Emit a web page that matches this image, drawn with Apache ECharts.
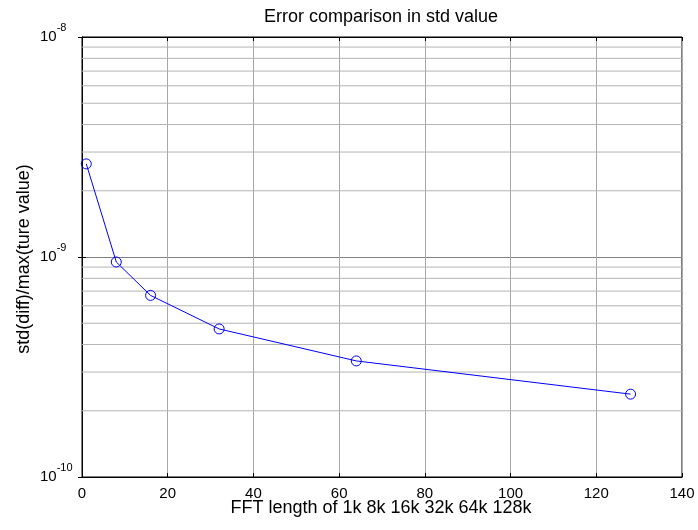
<!DOCTYPE html>
<html>
<head>
<meta charset="utf-8">
<script src="https://cdn.jsdelivr.net/npm/echarts@6/dist/echarts.min.js"></script>
<style>html,body{margin:0;padding:0;background:#fff}#c{width:698px;height:530px}</style>
</head>
<body>
<div id="c"></div>
<script>
const fftLengths = [1, 8, 16, 32, 64, 128];
const stdErrors = [2.65e-9, 0.949e-9, 0.669e-9, 0.471e-9, 0.337e-9, 0.238e-9];
const xTicks = [0, 20, 40, 60, 80, 100, 120, 140];
const yDecades = [1e-10, 1e-9, 1e-8];
const yMinorGrid = [2e-10,3e-10,4e-10,5e-10,6e-10,7e-10,8e-10,9e-10,2e-9,3e-9,4e-9,5e-9,6e-9,7e-9,8e-9,9e-9];
const titleText = 'Error comparison in std value';
const xLabel = 'FFT length of 1k 8k 16k 32k 64k 128k';
const yLabel = 'std(diff)/max(ture value)';

const FONT = 'Arial, "Liberation Sans", sans-serif';
const chart = echarts.init(document.getElementById('c'), null, {renderer: 'canvas'});
const gridL = 82, gridR = 16, gridT = 37, gridB = 53;
const xMin = xTicks[0], xMax = xTicks[xTicks.length - 1];

const minorSeries = yMinorGrid.map(v => ({
  type: 'line', silent: true, symbol: 'none', z: 1,
  data: [[xMin, v], [xMax, v]],
  lineStyle: {color: '#b4b4b4', width: 1},
  emphasis: {disabled: true}, tooltip: {show: false}
}));

chart.setOption({
  animation: false,
  backgroundColor: '#fff',
  graphic: [
    {type: 'text', x: 381, y: 17, style: {text: titleText, font: '18px ' + FONT, fill: '#000', textAlign: 'center', textVerticalAlign: 'middle'}},
    {type: 'text', x: 381, y: 508.5, style: {text: xLabel, font: '18px ' + FONT, fill: '#000', textAlign: 'center', textVerticalAlign: 'middle'}},
    {type: 'text', rotation: Math.PI/2, x: 24, y: 259, style: {text: yLabel, font: '18px ' + FONT, fill: '#000', textAlign: 'center', textVerticalAlign: 'middle'}}
  ],
  grid: {left: gridL, right: gridR, top: gridT, bottom: gridB, show: true, borderColor: '#000', borderWidth: 1, backgroundColor: 'transparent'},
  xAxis: [{
    type: 'value', min: xMin, max: xMax, interval: 20,
    axisLine: {show: true, lineStyle: {color: '#000'}},
    axisTick: {show: true, inside: true, length: 4, lineStyle: {color: '#000'}},
    axisLabel: {fontFamily: FONT, fontSize: 15, color: '#000', margin: 9},
    splitLine: {show: true, lineStyle: {color: '#a8a8a8', width: 1}}
  }, {
    type: 'value', position: 'top', min: xMin, max: xMax, interval: 20,
    axisLine: {show: true, lineStyle: {color: '#000'}},
    axisTick: {show: true, inside: true, length: 4, lineStyle: {color: '#000'}},
    axisLabel: {show: false}, splitLine: {show: false}
  }],
  yAxis: [{
    type: 'log', logBase: 10, min: yDecades[0], max: yDecades[yDecades.length-1],
    axisLine: {show: true, lineStyle: {color: '#000'}},
    axisTick: {show: true, inside: true, length: 4, lineStyle: {color: '#000'}},
    axisLabel: {
      margin: 42, align: 'left',
      formatter: v => '{b|10}{s|' + Math.round(Math.log10(v)) + '}',
      rich: {
        b: {fontFamily: FONT, fontSize: 15, color: '#000', lineHeight: 30, verticalAlign: 'middle'},
        s: {fontFamily: FONT, fontSize: 11, color: '#000', lineHeight: 12, verticalAlign: 'top'}
      }
    },
    splitLine: {show: true, lineStyle: {color: '#808080', width: 1}}
  }, {
    type: 'log', logBase: 10, min: yDecades[0], max: yDecades[yDecades.length-1], position: 'right',
    axisLine: {show: true, lineStyle: {color: '#000'}},
    axisTick: {show: true, inside: true, length: 4, lineStyle: {color: '#000'}},
    axisLabel: {show: false}, splitLine: {show: false}
  }],
  series: minorSeries.concat([{
    type: 'line',
    data: fftLengths.map((x, i) => [x, stdErrors[i]]),
    symbol: 'circle', symbolSize: 10, showSymbol: true,
    itemStyle: {color: 'transparent', borderColor: '#0000ff', borderWidth: 1},
    lineStyle: {color: '#0000ff', width: 1},
    z: 5
  }])
});
</script>
</body>
</html>
